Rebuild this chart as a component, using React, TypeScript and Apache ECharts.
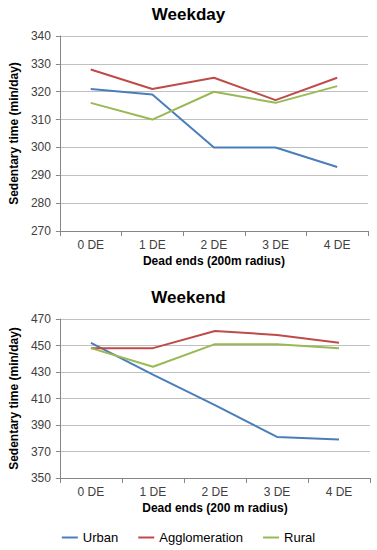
import React, { useEffect, useRef } from "react";
import * as echarts from "echarts";

const categories = ["0 DE", "1 DE", "2 DE", "3 DE", "4 DE"];
const weekdayUrban = [321, 319, 300, 300, 293];
const weekdayAgglomeration = [328, 321, 325, 317, 325];
const weekdayRural = [316, 310, 320, 316, 322];
const weekendUrban = [452, 428, 405, 381, 379];
const weekendAgglomeration = [448, 448, 461, 458, 452];
const weekendRural = [448, 434, 451, 451, 448];

const BLUE = "#4a7ebb";
const RED = "#be4b48";
const GREEN = "#98b954";
const FONT = "Liberation Sans, Arial, sans-serif";

export default function App() {
  const ref = useRef<HTMLDivElement>(null);
  useEffect(() => {
    document.body.style.margin = "0";
    const chart = echarts.init(ref.current!, null, { renderer: "svg" });
    const xAxisBase = (gridIndex: number, name: string) => ({
      type: "category",
      gridIndex,
      data: categories,
      boundaryGap: true,
      name,
      nameLocation: "middle",
      nameGap: 24,
      nameTextStyle: { fontFamily: FONT, fontSize: 12, fontWeight: "bold", color: "#000" },
      axisLine: { lineStyle: { color: "#868686" } },
      axisTick: { show: true, length: 5, lineStyle: { color: "#868686" } },
      axisLabel: { fontFamily: FONT, fontSize: 12, color: "#404040", margin: 8 },
      splitLine: { show: false },
    });
    const yAxisBase = (gridIndex: number, min: number, max: number, interval: number) => ({
      type: "value",
      gridIndex,
      min,
      max,
      interval,
      name: "Sedentary time (min/day)",
      nameLocation: "middle",
      nameGap: 30,
      nameTextStyle: { fontFamily: FONT, fontSize: 12, fontWeight: "bold", color: "#000" },
      axisLine: { show: true, lineStyle: { color: "#868686" } },
      axisTick: { show: true, length: 4, lineStyle: { color: "#868686" } },
      axisLabel: { fontFamily: FONT, fontSize: 12, color: "#404040", margin: 9 },
      splitLine: { show: true, lineStyle: { color: "#c0c0c0", width: 1 } },
    });
    const line = (name: string, data: number[], color: string, idx: number) => ({
      type: "line",
      name,
      data,
      xAxisIndex: idx,
      yAxisIndex: idx,
      symbol: "none",
      lineStyle: { color, width: 2 },
      itemStyle: { color },
    });
    chart.setOption({
      animation: false,
      backgroundColor: "#fff",
      title: [
        { text: "Weekday", left: "center", top: 1, textStyle: { fontFamily: FONT, fontSize: 17, fontWeight: "bold", color: "#000" } },
        { text: "Weekend", left: "center", top: 284, textStyle: { fontFamily: FONT, fontSize: 17, fontWeight: "bold", color: "#000" } },
      ],
      legend: {
        top: 526,
        left: "center",
        itemWidth: 16,
        itemHeight: 2,
        itemGap: 20,
        icon: "rect",
        textStyle: { fontFamily: FONT, fontSize: 13, color: "#000" },
        data: ["Urban", "Agglomeration", "Rural"],
      },
      grid: [
        { left: 55, right: 9, top: 36, height: 195 },
        { left: 53, right: 7, top: 319, height: 159 },
      ],
      xAxis: [xAxisBase(0, "Dead ends (200m radius)"), xAxisBase(1, "Dead ends (200 m radius)")],
      yAxis: [yAxisBase(0, 270, 340, 10), yAxisBase(1, 350, 470, 20)],
      series: [
        line("Urban", weekdayUrban, BLUE, 0),
        line("Agglomeration", weekdayAgglomeration, RED, 0),
        line("Rural", weekdayRural, GREEN, 0),
        line("Urban", weekendUrban, BLUE, 1),
        line("Agglomeration", weekendAgglomeration, RED, 1),
        line("Rural", weekendRural, GREEN, 1),
      ],
    });
    return () => chart.dispose();
  }, []);
  return <div ref={ref} style={{ width: 377, height: 550 }} />;
}
